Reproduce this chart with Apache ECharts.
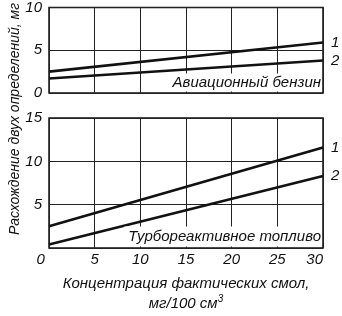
<!DOCTYPE html>
<html><head><meta charset="utf-8">
<script src="https://cdn.jsdelivr.net/npm/echarts@6/dist/echarts.min.js"></script>
<style>html,body{margin:0;padding:0;background:#fff}#c{width:342px;height:316px}</style>
</head><body><div id="c"></div>
<script>
// Data
const xValues = [0, 30];
const aviaLine1 = [2.5, 5.9];
const aviaLine2 = [1.7, 3.8];
const turboLine1 = [2.5, 11.6];
const turboLine2 = [0.4, 8.3];
const lineNames = ['1', '2'];
const topPanelLabel = 'Авиационный бензин';
const bottomPanelLabel = 'Турбореактивное топливо';
const yAxisTitle = 'Расхождение двух определений, мг';
const xAxisTitleLine1 = 'Концентрация фактических смол,';
const xAxisTitleLine2 = 'мг/100 см';

const FONT = 'Liberation Sans';
const ink = '#111';
const pairs = (arr) => xValues.map((x, i) => [x, arr[i]]);

function lineSeries(data, name, xi, yi) {
  return {
    type: 'line', xAxisIndex: xi, yAxisIndex: yi, data: pairs(data),
    symbol: 'none', lineStyle: { color: ink, width: 2.6 }, silent: true,
    endLabel: { show: true, formatter: name, distance: 8, color: ink,
      fontFamily: FONT, fontStyle: 'italic', fontSize: 15 }
  };
}
const tickLabel = { color: ink, fontFamily: FONT, fontStyle: 'italic', fontSize: 15 };
const gridLine = { show: true, lineStyle: { color: '#222', width: 1 } };

const chart = echarts.init(document.getElementById('c'), null, { renderer: 'canvas' });
chart.setOption({
  backgroundColor: '#fff',
  animation: false,
  grid: [
    { left: 49, width: 274, top: 5, height: 88, show: true, borderColor: ink, borderWidth: 1.5, backgroundColor: 'transparent' },
    { left: 49, width: 274, top: 118, height: 130, show: true, borderColor: ink, borderWidth: 1.5, backgroundColor: 'transparent' }
  ],
  xAxis: [
    { gridIndex: 0, type: 'value', min: 0, max: 30, interval: 5,
      axisLine: { show: false }, axisTick: { show: false }, axisLabel: { show: false }, splitLine: gridLine },
    { gridIndex: 1, type: 'value', min: 0, max: 30, interval: 5,
      axisLine: { show: false }, axisTick: { show: false },
      axisLabel: Object.assign({ margin: 4, alignMinLabel: 'right', alignMaxLabel: 'right',
        formatter: (v) => v === 0 ? '0 ' : String(v) }, tickLabel),
      splitLine: gridLine,
      name: '{a|' + xAxisTitleLine1 + '}\n{a|' + xAxisTitleLine2 + '}{s|3}',
      nameLocation: 'middle', nameGap: 26,
      nameTextStyle: { color: ink, rich: {
        a: { fontFamily: FONT, fontStyle: 'italic', fontSize: 15, lineHeight: 20, color: ink },
        s: { fontFamily: FONT, fontStyle: 'italic', fontSize: 10, lineHeight: 20, verticalAlign: 'top', color: ink, padding: [0, 0, 8, 0] }
      } } }
  ],
  yAxis: [
    { gridIndex: 0, type: 'value', min: 0, max: 10, interval: 5,
      axisLine: { show: false }, axisTick: { show: false },
      axisLabel: Object.assign({ margin: 7 }, tickLabel), splitLine: gridLine },
    { gridIndex: 1, type: 'value', min: 0, max: 15, interval: 5,
      axisLine: { show: false }, axisTick: { show: false },
      axisLabel: Object.assign({ margin: 7, showMinLabel: false, padding: [8, 0, 0, 0] }, tickLabel), splitLine: gridLine }
  ],
  series: [
    lineSeries(aviaLine1, lineNames[0], 0, 0),
    lineSeries(aviaLine2, lineNames[1], 0, 0),
    lineSeries(turboLine1, lineNames[0], 1, 1),
    lineSeries(turboLine2, lineNames[1], 1, 1)
  ],
  graphic: [
    { type: 'text', x: 321, y: 91.5, z: 100, style: { text: topPanelLabel, align: 'right', verticalAlign: 'bottom',
      fill: ink, font: 'italic 15px "' + FONT + '"', backgroundColor: '#fff', padding: [2, 0, 1, 4] } },
    { type: 'text', x: 321, y: 246.5, z: 100, style: { text: bottomPanelLabel, align: 'right', verticalAlign: 'bottom',
      fill: ink, font: 'italic 15px "' + FONT + '"', backgroundColor: '#fff', padding: [3, 0, 2, 4] } },
    { type: 'text', x: 15, y: 119, rotation: Math.PI / 2, style: { text: yAxisTitle, align: 'center', verticalAlign: 'middle',
      fill: ink, font: 'italic 14px "' + FONT + '"' } }
  ]
});
</script></body></html>
